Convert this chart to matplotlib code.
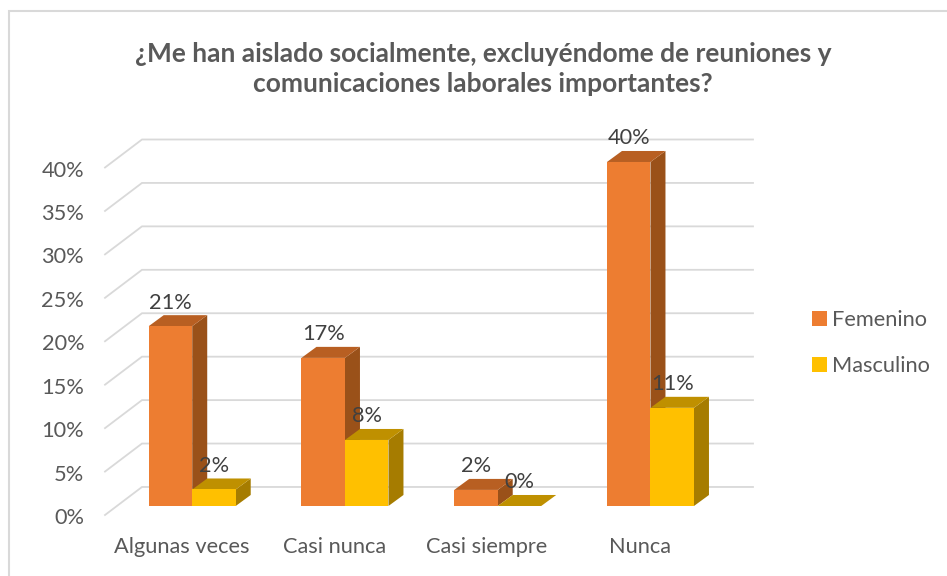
import matplotlib
matplotlib.use("Agg")
import matplotlib.pyplot as plt
from matplotlib.lines import Line2D
from matplotlib.transforms import offset_copy

categories = ["Algunas veces", "Casi nunca", "Casi siempre", "Nunca"]
femenino = [20.7, 17.05, 1.85, 39.6]
masculino = [1.9, 7.6, 0.0, 11.3]
y_ticks = [0, 5, 10, 15, 20, 25, 30, 35, 40]
title = "¿Me han aislado socialmente, excluyéndome de reuniones y\ncomunicaciones laborales importantes?"

W, H = 947, 576
plt.rcParams['font.family'] = ['Lato', 'DejaVu Sans']
fig = plt.figure(figsize=(W / 100, H / 100), dpi=100, facecolor='white')

# scale of the picture, px per unit
PX_X = 152.75
PX_Y = 8.68
DEPTH_X = 37 / PX_X
DEPTH_Y = 28 / PX_Y
BAR_DX = 15 / PX_X
BAR_DY = 11 / PX_Y
BASE = 9 / PX_Y
SHIFT = 0.071
BAR_W = 43.5 / PX_X
FS = 15.7

left, right, bottom, top = 105, 753, 515, 139.5
ax = fig.add_axes([left / W, 1 - bottom / H, (right - left) / W, (bottom - top) / H])
ax.set_xlim(0, 4 + DEPTH_X)
ax.set_ylim(0, 40 + DEPTH_Y)
ax.patch.set_alpha(0)
for s in ax.spines.values():
    s.set_visible(False)

GRID = '#D9D9D9'
for t in y_ticks:
    ax.plot([0, DEPTH_X, 4 + DEPTH_X], [t, t + DEPTH_Y, t + DEPTH_Y], color=GRID, lw=1.3,
            clip_on=False, zorder=1, solid_joinstyle='miter')

ax.set_yticks(y_ticks)
ax.set_yticklabels([f"{t}%" for t in y_ticks], fontsize=FS, color='#595959')
ax.set_xticks([i + 0.5 for i in range(len(categories))])
ax.set_xticklabels(categories, fontsize=FS, color='#595959')
ax.tick_params(axis='y', length=0, pad=15)
ax.tick_params(axis='x', length=0, pad=16)
for lab in ax.get_yticklabels():
    lab.set_transform(offset_copy(lab.get_transform(), fig=fig, x=0, y=-1, units='dots'))

series = [
    ("Femenino", femenino, -1, '#ED7D31', '#B85F22', '#9A5119'),
    ("Masculino", masculino, 0, '#FFC000', '#BF9000', '#A67C00'),
]
handles = []
for i in range(len(categories)):
    for name, vals, off, front, topc, side in series:
        x0 = i + 0.5 + SHIFT + off * BAR_W
        x1 = x0 + BAR_W
        v = vals[i]
        y0 = BASE
        y1 = BASE + v
        z = 3 + i + (off + 1) * 0.1
        ax.fill([x1, x1 + BAR_DX, x1 + BAR_DX, x1],
                [y0, y0 + BAR_DY, y1 + BAR_DY, y1], color=side, lw=0, zorder=z, clip_on=False)
        ax.fill([x0, x1, x1 + BAR_DX, x0 + BAR_DX],
                [y1, y1, y1 + BAR_DY, y1 + BAR_DY], color=topc, lw=0, zorder=z, clip_on=False)
for name, vals, off, front, topc, side in series:
    xs = [i + 0.5 + SHIFT + off * BAR_W for i in range(len(categories))]
    bars = ax.bar(xs, vals, BAR_W, bottom=BASE, align='edge', color=front, lw=0,
                  label=name, zorder=3 + 0.1 * (off + 1) + 3.5, clip_on=False)
    handles.append(bars)
    for x, v in zip(xs, vals):
        ax.annotate(f"{round(v)}%", (x + BAR_W / 2, BASE + v), xytext=(0, 17),
                    textcoords='offset points', ha='center', va='center',
                    fontsize=FS, color='#404040', zorder=20, annotation_clip=False)

fig.text(483 / W, 1 - 68.5 / H, title, ha='center', va='center', fontsize=19,
         fontweight='bold', color='#595959', linespacing=1.3)

fig.legend(handles=handles, loc='upper left', bbox_to_anchor=(812 / W, 1 - 310 / H),
           frameon=False, fontsize=FS, labelcolor='#595959', handlelength=0.68,
           handleheight=0.68, handletextpad=0.25, labelspacing=1.19, borderpad=0, borderaxespad=0)

BORDER = '#D9D9D9'
fig.add_artist(Line2D([9 / W, 9 / W, 1], [0, 1 - 11 / H, 1 - 11 / H], color=BORDER, lw=1.5,
                      transform=fig.transFigure, solid_joinstyle='miter'))

fig.savefig("out.png", dpi=100, facecolor='white')
